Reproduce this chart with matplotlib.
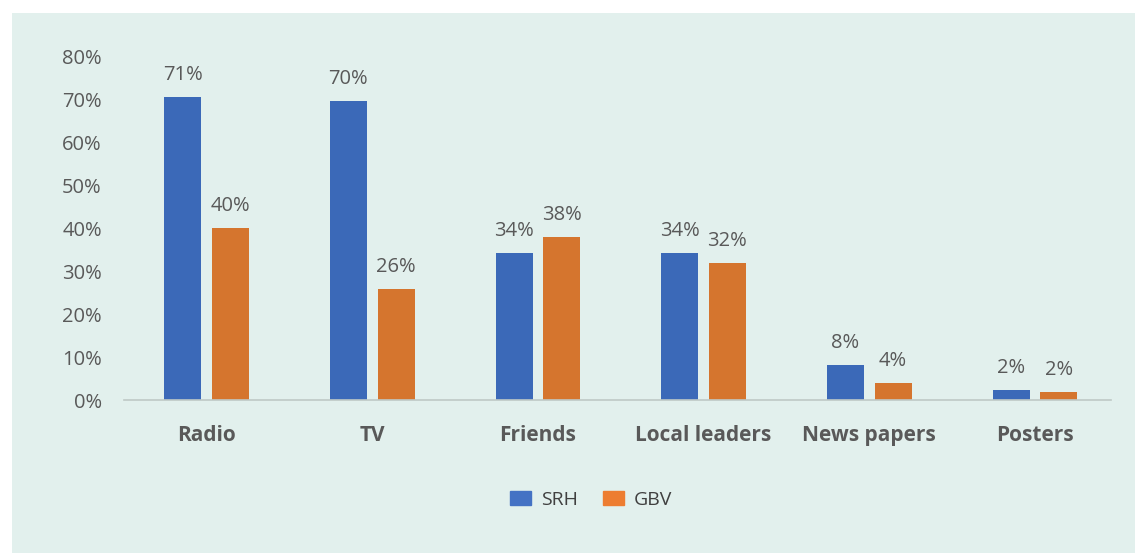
import matplotlib.pyplot as plt
from matplotlib.patches import Rectangle, Patch
import numpy as np

plt.rcParams['font.family'] = ['Open Sans', 'DejaVu Sans']

categories = ['Radio', 'TV', 'Friends', 'Local leaders', 'News papers', 'Posters']
srh = [70.6, 69.7, 34.3, 34.3, 8.2, 2.3]
gbv = [40.0, 26.0, 38.0, 32.0, 4.0, 1.9]
srh_labels = ['71%', '70%', '34%', '34%', '8%', '2%']
gbv_labels = ['40%', '26%', '38%', '32%', '4%', '2%']

bg = '#e2f0ed'
c_srh = '#3b69b8'
c_gbv = '#d5752e'
txt = '#595959'

fig = plt.figure(figsize=(11.35, 5.53), dpi=100)
fig.patch.set_facecolor('white')
fig.add_artist(Rectangle((12 / 1135, 0), 1, 1 - 13 / 553, transform=fig.transFigure,
                         facecolor=bg, edgecolor='none', zorder=0))

ax = fig.add_axes([124 / 1135, 153 / 553, 987 / 1135, 343 / 553])
ax.set_facecolor('none')

x = np.arange(len(categories))
w = 0.223
off = 0.144
b1 = ax.bar(x - off, srh, w, color=c_srh)
b2 = ax.bar(x + off, gbv, w, color=c_gbv)

for bars, labs in ((b1, srh_labels), (b2, gbv_labels)):
    for b, lab in zip(bars, labs):
        ax.text(b.get_x() + b.get_width() / 2, b.get_height() + 2.8, lab,
                ha='center', va='bottom', fontsize=14.5, color=txt)

ax.set_xlim(-0.498, 5.459)
ax.set_ylim(0, 80)
ax.set_yticks(range(0, 81, 10))
ax.set_yticklabels(['%d%%' % v for v in range(0, 81, 10)], fontsize=14.5, color=txt)
ax.set_xticks(x)
ax.set_xticklabels(categories, fontsize=15, fontweight='bold', color=txt)
ax.tick_params(axis='both', length=0)
ax.tick_params(axis='y', pad=16)
ax.tick_params(axis='x', pad=18)
for s in ['top', 'right', 'left']:
    ax.spines[s].set_visible(False)
ax.spines['bottom'].set_color('#bfc9c6')
ax.spines['bottom'].set_linewidth(1.2)

handles = [Patch(color='#4472c4', label='SRH'), Patch(color='#ed7d31', label='GBV')]
fig.legend(handles=handles, loc='center', bbox_to_anchor=(591 / 1135, 1 - 500 / 553),
           ncol=2, frameon=False, fontsize=14, handlelength=1.1, handleheight=0.75,
           columnspacing=1.3, handletextpad=0.5, labelcolor='#404040')

fig.savefig('out.png', dpi=100)
